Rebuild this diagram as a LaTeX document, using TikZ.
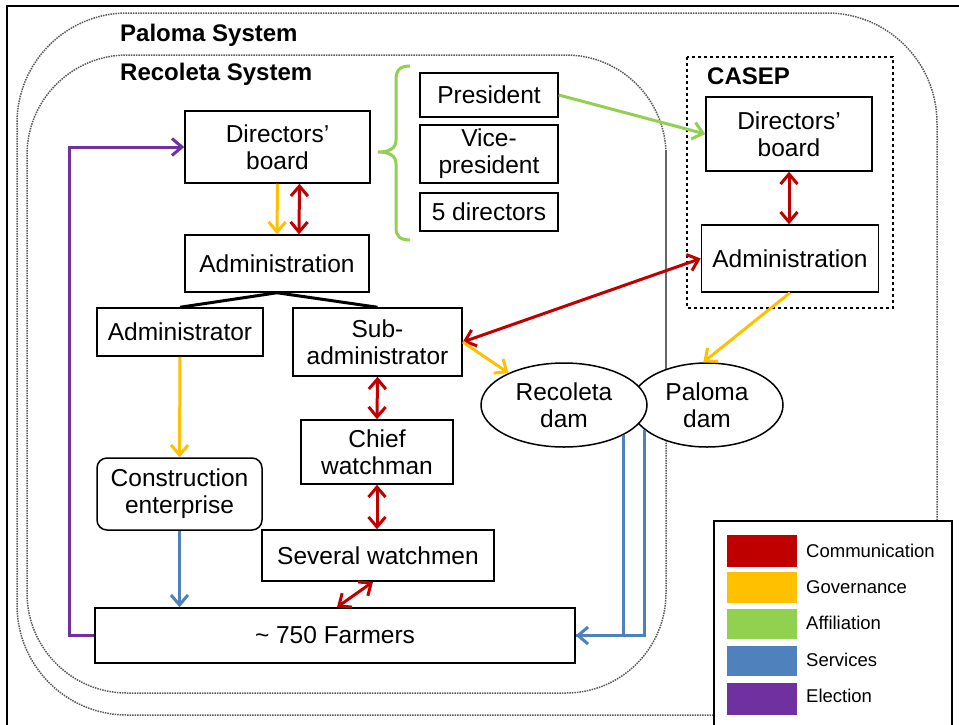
\documentclass[tikz,border=0pt]{standalone}
\usepackage{fontspec}
\setmainfont{Liberation Sans}
\usetikzlibrary{arrows.meta,shapes.geometric}

\definecolor{commc}{HTML}{C00000}
\definecolor{govc}{HTML}{FFC000}
\definecolor{affc}{HTML}{92D050}
\definecolor{servc}{HTML}{4F81BD}
\definecolor{elecc}{HTML}{7030A0}

\begin{document}
\begin{tikzpicture}[x=1pt,y=-1pt,
  >={Straight Barb[length=10pt,width=17pt]},
  every node/.style={font=\fontsize{24.5}{27}\selectfont, text=black},
  blk/.style={draw, line width=1.5pt, fill=white, align=center, inner sep=0pt},
  dam/.style={ellipse, draw, line width=1.5pt, fill=white, align=center, inner sep=0pt},
  title/.style={anchor=west, inner sep=0pt, font=\fontsize{24}{27}\selectfont\bfseries},
  sysline/.style={draw=black!65, densely dotted, line width=1.5pt},
  commline/.style={draw=commc, line width=3pt},
  govline/.style={draw=govc, line width=3pt},
  affline/.style={draw=affc, line width=3pt},
  servline/.style={draw=servc, line width=3pt},
  elecline/.style={draw=elecc, line width=3pt},
  legtext/.style={anchor=west, inner sep=0pt, font=\fontsize{18.5}{21}\selectfont},
]
\useasboundingbox (0,0) rectangle (959,724);

% outer frame
\draw[line width=2.5pt] (7,730) -- (7,6) -- (965,6);

% system boundaries
\draw[sysline, rounded corners=110pt] (17,13) rectangle (937,715);
\draw[sysline, rounded corners=100pt] (27,55) rectangle (666,693);
\draw[black!60, line width=1.2pt] (666,150) -- (666,400);
\node[title] (palt) at (120,35) {Paloma System};
\node[title] (recot) at (120,74) {Recoleta System};

% CASEP
\draw[dashed, line width=1.5pt] (687,57) rectangle (893,308);
\node[title] (caset) at (707,76) {CASEP};
\node[blk, minimum width=166, minimum height=74] (cboard) at (789,134) {Directors'\\board};
\node[blk, minimum width=177, minimum height=67] (cadmin) at (790,258.5) {Administration};

% Recoleta organisation
\node[blk, minimum width=185, minimum height=72] (rboard) at (277.5,147) {Directors'\\board};
\node[blk, minimum width=184, minimum height=57] (radmin) at (277,263.5) {Administration};
\node[blk, minimum width=166, minimum height=48] (radm) at (180,332) {Administrator};
\node[blk, minimum width=169, minimum height=68] (rsub) at (377.5,342) {Sub-\\administrator};
\node[blk, minimum width=152, minimum height=64] (chief) at (377,452) {Chief\\watchman};
\node[blk, minimum width=232, minimum height=51] (several) at (378,555.5) {Several watchmen};
\node[blk, rounded corners=10pt, minimum width=165, minimum height=72] (constr) at (179.5,494) {Construction\\enterprise};
\node[blk, minimum width=480, minimum height=55] (farm) at (335,635.5) {\textasciitilde{} 750 Farmers};

\node[blk, minimum width=138, minimum height=44] (pres) at (489,95) {President};
\node[blk, minimum width=138, minimum height=58] (vice) at (489,154) {Vice-\\president};
\node[blk, minimum width=138, minimum height=38] (five) at (489,212) {5 directors};

% brace grouping the board members
\draw[affc, line width=3pt]
  (410,66) .. controls (400,66) and (396,70) .. (396,80) -- (396,140)
  .. controls (396,148) and (390,152) .. (378,152)
  .. controls (390,152) and (396,156) .. (396,164) -- (396,228)
  .. controls (396,236) and (400,240) .. (410,240);

% dams
\node[dam, minimum width=152, minimum height=84] (pdam) at (707,405) {Paloma\\dam};
\node[dam, minimum width=166, minimum height=84] (rdam) at (564,405) {Recoleta\\dam};

% connectors
\draw[elecline,->] (farm.west) -- ++(-25,0) |- (rboard.west);
\draw[govline,->] (rboard.south) -- (radmin.north);
\draw[commline,<->] ([xshift=22pt]rboard.south) -- ([xshift=22pt]radmin.north);
\draw[line width=3pt] (radmin.south) -- (radm.north);
\draw[line width=3pt] (radmin.south) -- (rsub.north);
\draw[govline,->] (radm.south) -- (constr.north);
\draw[servline,->] (constr.south) -- (constr.south |- farm.north);
\draw[commline,<->] (rsub.south) -- (chief.north);
\draw[commline,<->] (chief.south) -- (chief.south |- several.north);
\draw[commline,<->] ([xshift=-5pt]several.south) -- ([xshift=2pt]farm.north);
\draw[affline,->] (pres.east) -- (cboard.west);
\draw[commline,<->] (cboard.south) -- (cboard.south |- cadmin.north);
\draw[commline,<->] (rsub.east) -- (cadmin.west);
\draw[govline,->] (rsub.east) -- (rdam.150);
\draw[govline,->] (cadmin.south) -- (pdam.95);
\draw[servline] (pdam.-158) |- (farm.east);
\draw[servline,->] (rdam.-27) |- (farm.east);

% legend
\draw[line width=1.5pt, fill=white] (714,521) rectangle (952,740);
\fill[commc] (727,535) rectangle (797,567);
\fill[govc]  (727,572) rectangle (797,603);
\fill[affc]  (727,609) rectangle (797,639);
\fill[servc] (727,646) rectangle (797,676);
\fill[elecc] (727,683) rectangle (797,715);
\node[legtext] (lcomm) at (806,551) {Communication};
\node[legtext] (lgov)  at (806,587) {Governance};
\node[legtext] (laff)  at (806,623) {Affiliation};
\node[legtext] (lserv) at (806,660) {Services};
\node[legtext] (lelec) at (806,696) {Election};
\end{tikzpicture}
\end{document}
